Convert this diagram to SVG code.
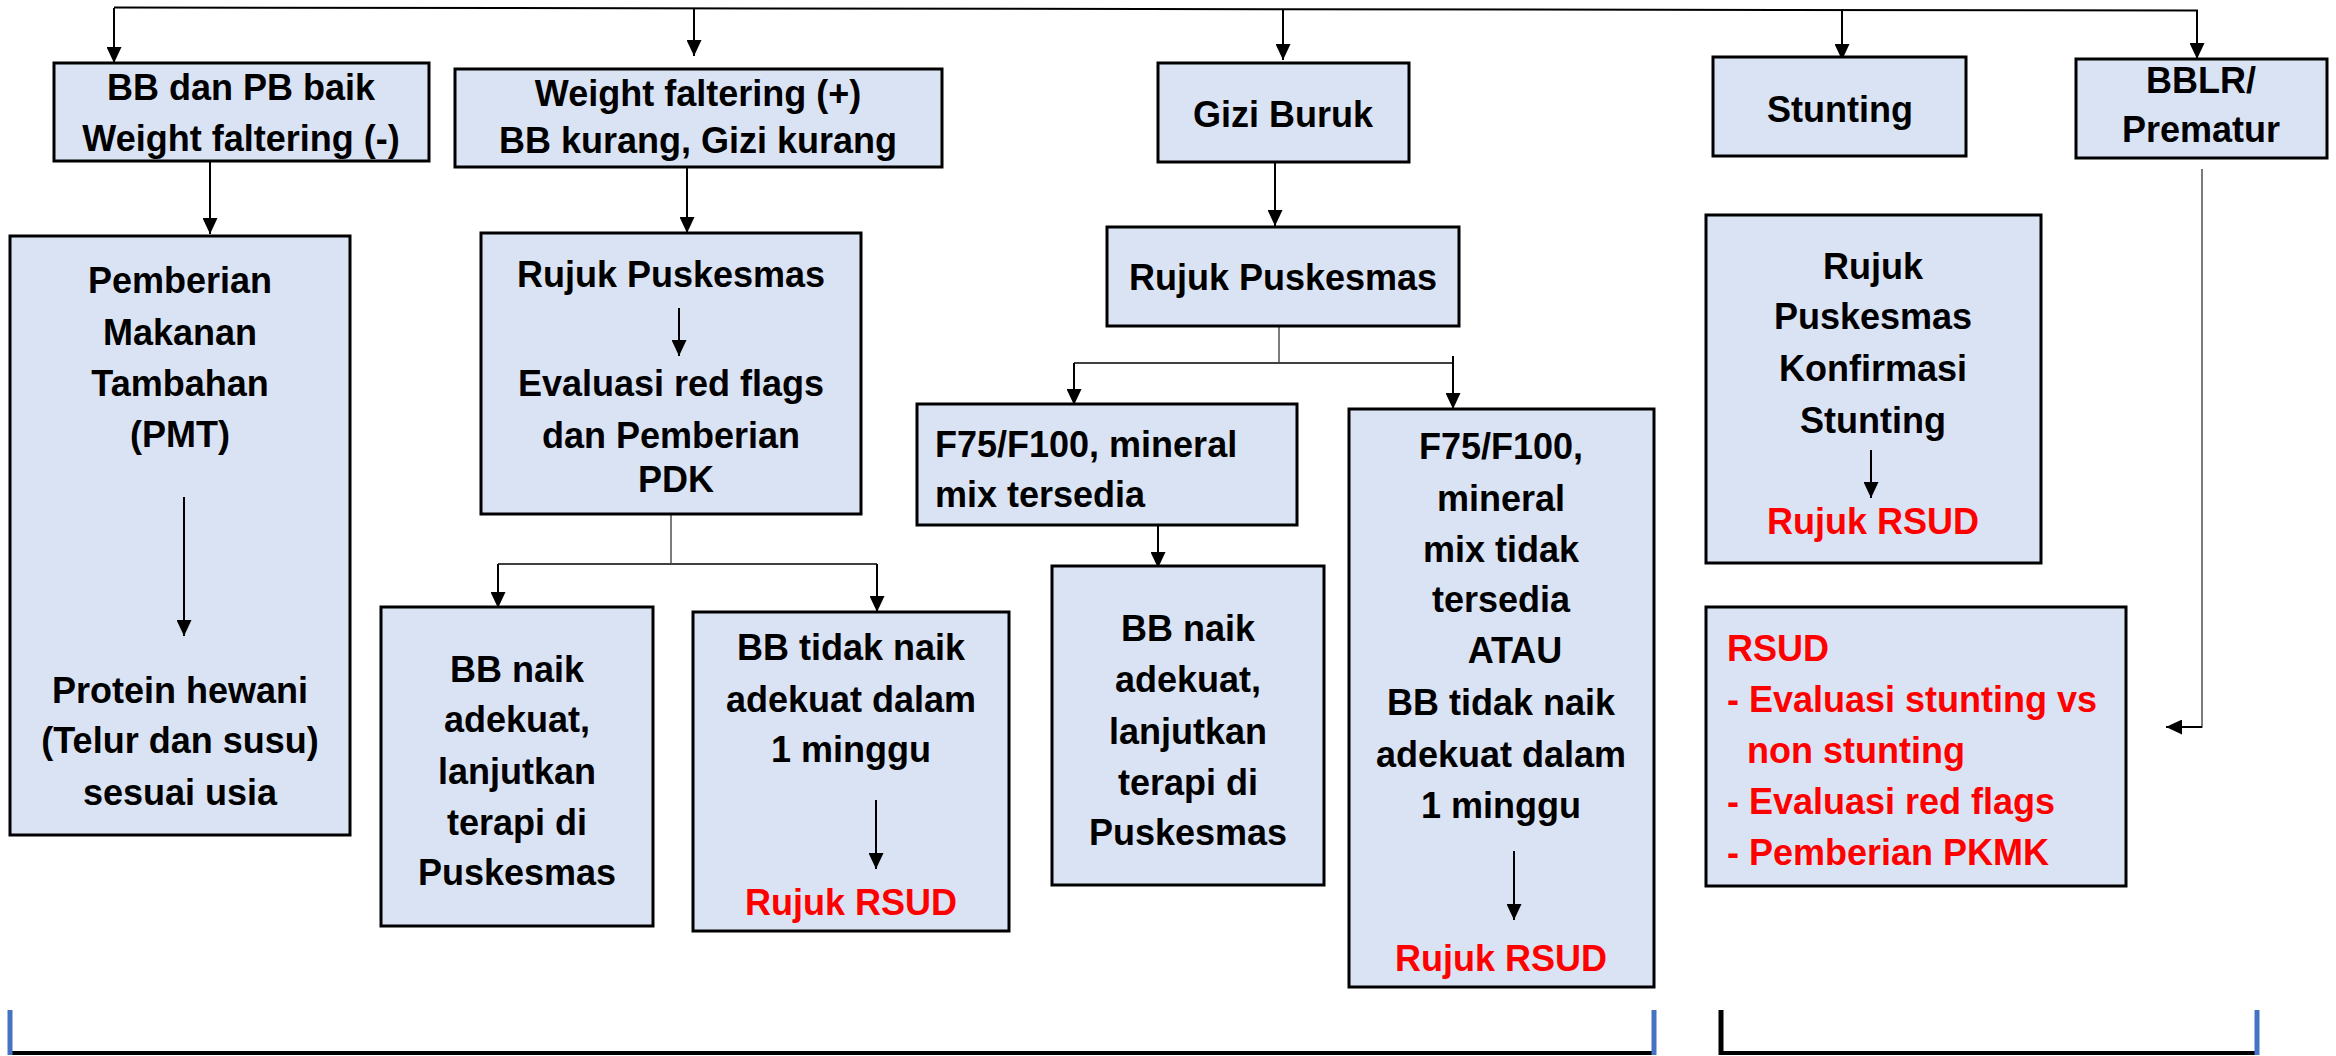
<svg xmlns="http://www.w3.org/2000/svg" width="2336" height="1056" viewBox="0 0 2336 1056">
<style>
.box{fill:#DAE3F3;stroke:#000;stroke-width:3}
.t{font-family:"Liberation Sans",Arial,sans-serif;font-weight:bold;font-size:36px;fill:#000}
.c{text-anchor:middle}
.r{fill:#FF0000}
.a{stroke:#000;stroke-width:2;fill:none;marker-end:url(#ah)}
.g{stroke:#505050;stroke-width:1.5;fill:none}
.gd{stroke:#404040;stroke-width:2;fill:none}
</style>
<defs>
<marker id="ah" markerUnits="userSpaceOnUse" markerWidth="16" markerHeight="15" refX="16" refY="7.5" orient="auto">
<path d="M0,0 L16,7.5 L0,15 z" fill="#000"/>
</marker>
</defs>
<rect width="2336" height="1056" fill="#fff"/>

<g id="connectors">
<line x1="114" y1="7.5" x2="2198" y2="10.5" stroke="#000" stroke-width="2"/>
<line class="a" x1="114" y1="8" x2="114" y2="63"/>
<line class="a" x1="694" y1="8" x2="694" y2="56"/>
<line class="a" x1="1283" y1="9" x2="1283" y2="60"/>
<line class="a" x1="1842" y1="10" x2="1842" y2="60"/>
<line class="a" x1="2197" y1="10" x2="2197" y2="59"/>
<line class="a" x1="210" y1="162" x2="210" y2="234"/>
<line class="a" x1="687" y1="168" x2="687" y2="233"/>
<line class="a" x1="1275" y1="154" x2="1275" y2="226"/>
<line class="g" x1="671" y1="514" x2="671" y2="564"/>
<polyline class="gd" points="498,564 877,564"/>
<line class="a" x1="498" y1="564" x2="498" y2="608"/>
<line class="a" x1="877" y1="564" x2="877" y2="612"/>
<line class="g" x1="1279" y1="315" x2="1279" y2="363"/>
<polyline class="gd" points="1074,363 1453,363"/>
<line class="a" x1="1074" y1="363" x2="1074" y2="405"/>
<line class="a" x1="1453" y1="356" x2="1453" y2="409"/>
<line class="a" x1="1158" y1="525" x2="1158" y2="568"/>
<polyline class="g" points="2202,169 2202,727 2184,727"/>
<line class="a" x1="2202" y1="727" x2="2166" y2="727"/>
</g>

<g id="n-bb-baik">
<rect class="box" x="54" y="63" width="375" height="98"/>
<text class="t c" x="241" y="100">BB dan PB baik</text>
<text class="t c" x="241" y="151">Weight faltering (-)</text>
</g>

<g id="n-wf-plus">
<rect class="box" x="455" y="69" width="487" height="98"/>
<text class="t c" x="698" y="106">Weight faltering (+)</text>
<text class="t c" x="698" y="153">BB kurang, Gizi kurang</text>
</g>

<g id="n-gizi-buruk">
<rect class="box" x="1158" y="63" width="251" height="99"/>
<text class="t c" x="1283" y="127">Gizi Buruk</text>
</g>

<g id="n-stunting">
<rect class="box" x="1713" y="57" width="253" height="99"/>
<text class="t c" x="1840" y="122">Stunting</text>
</g>

<g id="n-bblr">
<rect class="box" x="2076" y="59" width="251" height="99"/>
<text class="t c" x="2201" y="93">BBLR/</text>
<text class="t c" x="2201" y="142">Prematur</text>
</g>

<g id="n-pmt">
<rect class="box" x="10" y="236" width="340" height="599"/>
<text class="t c" x="180" y="293">Pemberian</text>
<text class="t c" x="180" y="345">Makanan</text>
<text class="t c" x="180" y="396">Tambahan</text>
<text class="t c" x="180" y="447">(PMT)</text>
<line class="a" x1="184" y1="497" x2="184" y2="636"/>
<text class="t c" x="180" y="703">Protein hewani</text>
<text class="t c" x="180" y="753">(Telur dan susu)</text>
<text class="t c" x="180" y="805">sesuai usia</text>
</g>

<g id="n-rujuk-pkm-1">
<rect class="box" x="481" y="233" width="380" height="281"/>
<text class="t c" x="671" y="287">Rujuk Puskesmas</text>
<line class="a" x1="679" y1="308" x2="679" y2="356"/>
<text class="t c" x="671" y="396">Evaluasi red flags</text>
<text class="t c" x="671" y="448">dan Pemberian</text>
<text class="t c" x="676" y="492">PDK</text>
</g>

<g id="n-bb-naik-1">
<rect class="box" x="381" y="607" width="272" height="319"/>
<text class="t c" x="517" y="682">BB naik</text>
<text class="t c" x="517" y="732">adekuat,</text>
<text class="t c" x="517" y="784">lanjutkan</text>
<text class="t c" x="517" y="835">terapi di</text>
<text class="t c" x="517" y="885">Puskesmas</text>
</g>

<g id="n-bb-tidak-1">
<rect class="box" x="693" y="612" width="316" height="319"/>
<text class="t c" x="851" y="660">BB tidak naik</text>
<text class="t c" x="851" y="712">adekuat dalam</text>
<text class="t c" x="851" y="762">1 minggu</text>
<line class="a" x1="876" y1="800" x2="876" y2="869"/>
<text class="t c r" x="851" y="915">Rujuk RSUD</text>
</g>

<g id="n-rujuk-pkm-2">
<rect class="box" x="1107" y="227" width="352" height="99"/>
<text class="t c" x="1283" y="290">Rujuk Puskesmas</text>
</g>

<g id="n-f75-ada">
<rect class="box" x="917" y="404" width="380" height="121"/>
<text class="t" x="935" y="457">F75/F100, mineral</text>
<text class="t" x="935" y="507">mix tersedia</text>
</g>

<g id="n-bb-naik-2">
<rect class="box" x="1052" y="566" width="272" height="319"/>
<text class="t c" x="1188" y="641">BB naik</text>
<text class="t c" x="1188" y="692">adekuat,</text>
<text class="t c" x="1188" y="744">lanjutkan</text>
<text class="t c" x="1188" y="795">terapi di</text>
<text class="t c" x="1188" y="845">Puskesmas</text>
</g>

<g id="n-f75-tidak">
<rect class="box" x="1349" y="409" width="305" height="578"/>
<text class="t c" x="1501" y="459">F75/F100,</text>
<text class="t c" x="1501" y="511">mineral</text>
<text class="t c" x="1501" y="562">mix tidak</text>
<text class="t c" x="1501" y="612">tersedia</text>
<text class="t c" x="1515" y="663">ATAU</text>
<text class="t c" x="1501" y="715">BB tidak naik</text>
<text class="t c" x="1501" y="767">adekuat dalam</text>
<text class="t c" x="1501" y="818">1 minggu</text>
<line class="a" x1="1514" y1="851" x2="1514" y2="920"/>
<text class="t c r" x="1501" y="971">Rujuk RSUD</text>
</g>

<g id="n-rujuk-stunting">
<rect class="box" x="1706" y="215" width="335" height="348"/>
<text class="t c" x="1873" y="279">Rujuk</text>
<text class="t c" x="1873" y="329">Puskesmas</text>
<text class="t c" x="1873" y="381">Konfirmasi</text>
<text class="t c" x="1873" y="433">Stunting</text>
<line class="a" x1="1871" y1="450" x2="1871" y2="498"/>
<text class="t c r" x="1873" y="534">Rujuk RSUD</text>
</g>

<g id="n-rsud">
<rect class="box" x="1706" y="607" width="420" height="279"/>
<text class="t r" x="1727" y="661">RSUD</text>
<text class="t r" x="1727" y="712">- Evaluasi stunting vs</text>
<text class="t r" x="1747" y="763">non stunting</text>
<text class="t r" x="1727" y="814">- Evaluasi red flags</text>
<text class="t r" x="1727" y="865">- Pemberian PKMK</text>
</g>

<g id="brackets">
<line x1="10" y1="1053" x2="1654" y2="1053" stroke="#000" stroke-width="4"/>
<line x1="10" y1="1010" x2="10" y2="1055" stroke="#4472C4" stroke-width="5"/>
<line x1="1654" y1="1010" x2="1654" y2="1055" stroke="#4472C4" stroke-width="5"/>
<line x1="1721" y1="1053" x2="2257" y2="1053" stroke="#000" stroke-width="4"/>
<line x1="1721" y1="1010" x2="1721" y2="1055" stroke="#000" stroke-width="5"/>
<line x1="2257" y1="1010" x2="2257" y2="1055" stroke="#4472C4" stroke-width="5"/>
</g>
</svg>
